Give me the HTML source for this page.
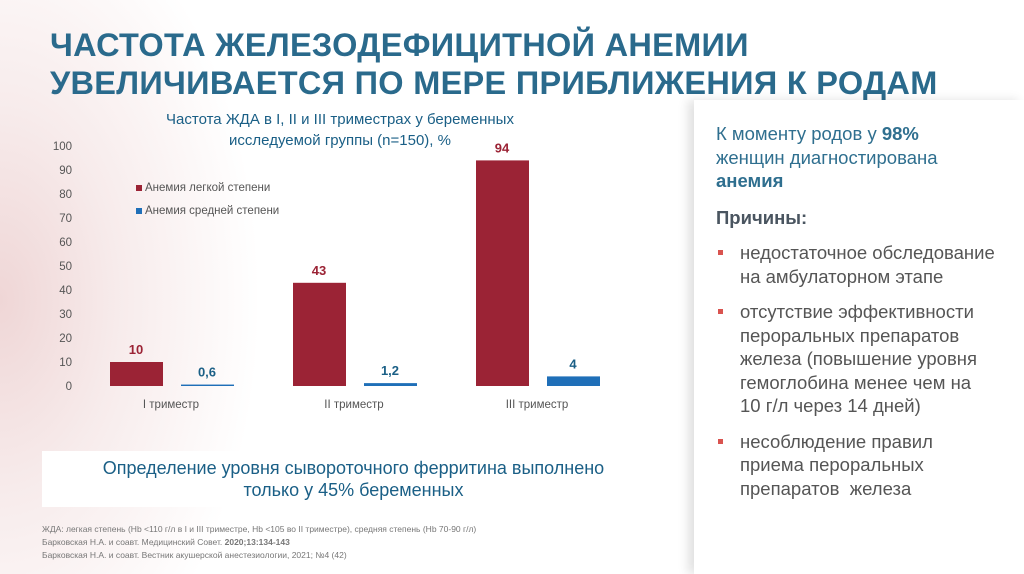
<!DOCTYPE html>
<html><head><meta charset="utf-8"><style>
body{margin:0;width:1024px;height:574px;overflow:hidden;font-family:"Liberation Sans",sans-serif;position:relative;background:#fff}
.bg{position:absolute;inset:0;background:radial-gradient(ellipse 260px 420px at 0px 300px,#efd6d6 0%,#f7ebeb 45%,rgba(255,255,255,0) 100%)}
h1{position:absolute;left:50px;top:26px;margin:0;font-size:32.5px;line-height:38px;font-weight:bold;color:#2a6a8c;letter-spacing:0.3px}
.right{position:absolute;left:694px;top:100px;width:330px;height:474px;background:#fff;box-shadow:-6px 0 10px rgba(0,0,0,0.12)}
.rt{position:absolute;left:716px;color:#2f6f8f;font-size:18.5px;line-height:23.5px;white-space:nowrap}
.b{list-style:none;margin:0;padding:0}
.b li{position:relative;padding-left:24px;margin-bottom:12px}
.b li:before{content:"";position:absolute;left:2px;top:9px;width:5px;height:5px;background:#d9534f}
.box{position:absolute;left:42px;top:451px;width:623px;height:56px;background:#fff;color:#1a5f86;font-size:18px;line-height:22px;text-align:center;padding-top:6px;box-sizing:border-box}
.refs{position:absolute;left:42px;top:523px;font-size:8.5px;line-height:13px;color:#777}
</style></head><body>
<div class="bg"></div>
<h1>ЧАСТОТА ЖЕЛЕЗОДЕФИЦИТНОЙ АНЕМИИ<br>УВЕЛИЧИВАЕТСЯ ПО МЕРЕ ПРИБЛИЖЕНИЯ К РОДАМ</h1>
<svg id="chart" width="1024" height="574" style="position:absolute;left:0;top:0"></svg>
<div class="right"></div>
<div class="rt" style="top:122px">К моменту родов у <b>98%</b><br>женщин диагностирована<br><b>анемия</b></div>
<div class="rt" style="top:206px;font-weight:bold;color:#4a5560">Причины:</div>
<div class="rt" style="top:241px;color:#555"><ul class="b">
<li>недостаточное обследование<br>на амбулаторном этапе</li>
<li>отсутствие эффективности<br>пероральных препаратов<br>железа (повышение уровня<br>гемоглобина менее чем на<br>10 г/л через 14 дней)</li>
<li>несоблюдение правил<br>приема пероральных<br>препаратов&nbsp; железа</li></ul></div>
<div class="box">Определение уровня сывороточного ферритина выполнено<br>только у 45% беременных</div>
<div class="refs">ЖДА: легкая степень (Hb &lt;110 г/л в I и III триместре, Hb &lt;105 во II триместре), средняя степень (Hb 70-90 г/л)<br>Барковская Н.А. и соавт. Медицинский Совет. <b>2020;13:134-143</b><br>Барковская Н.А. и соавт. Вестник акушерской анестезиологии, 2021; №4 (42)</div>
<script>
const categories=["I триместр","II триместр","III триместр"];
const mild=[10,43,94];
const moderate=[0.6,1.2,4];
const mildLabels=["10","43","94"];
const modLabels=["0,6","1,2","4"];
const yTicks=[0,10,20,30,40,50,60,70,80,90,100];
const svg=document.getElementById('chart');const NS="http://www.w3.org/2000/svg";
function y(v){return 386-v*2.4;}
function gx(i){return 110+i*183;}
function add(tag,attrs,txt){const e=document.createElementNS(NS,tag);for(const k in attrs)e.setAttribute(k,attrs[k]);if(txt!==undefined)e.textContent=txt;svg.appendChild(e);return e;}
let t=add('text',{x:340,y:124,'text-anchor':'middle','font-size':15,fill:'#1a5f86'},'Частота ЖДА в I, II и III триместрах у беременных');

t=add('text',{x:340,y:145,'text-anchor':'middle','font-size':15,fill:'#1a5f86'},'исследуемой группы (n=150), %');

yTicks.forEach(v=>{const e=add('text',{x:72,y:y(v)+4,'text-anchor':'end','font-size':11.5,fill:'#555'},v);
});
categories.forEach((c,i)=>{
 const x0=gx(i);
 let r=add('rect',{x:x0,y:y(mild[i]),width:53,height:mild[i]*2.4,fill:'#9b2335'});
 
 let b=add('rect',{x:x0+71,y:y(moderate[i]),width:53,height:Math.max(moderate[i]*2.4,1),fill:'#1f6fb8'});
 
 let l=add('text',{x:x0+26,y:y(mild[i])-8,'text-anchor':'middle','font-size':13,'font-weight':'bold',fill:'#9b2335'},mildLabels[i]);
 
 l=add('text',{x:x0+97,y:y(moderate[i])-8,'text-anchor':'middle','font-size':13,'font-weight':'bold',fill:'#1a5f86'},modLabels[i]);
 
 l=add('text',{x:x0+61,y:408,'text-anchor':'middle','font-size':11.5,fill:'#555'},c);
 
});
let s=add('rect',{x:136,y:185,width:6,height:6,fill:'#9b2335'});
s=add('text',{x:145,y:191,'font-size':11.5,fill:'#555'},'Анемия легкой степени');
s=add('rect',{x:136,y:208,width:6,height:6,fill:'#1f6fb8'});
s=add('text',{x:145,y:214,'font-size':11.5,fill:'#555'},'Анемия средней степени');
</script>
</body></html>
